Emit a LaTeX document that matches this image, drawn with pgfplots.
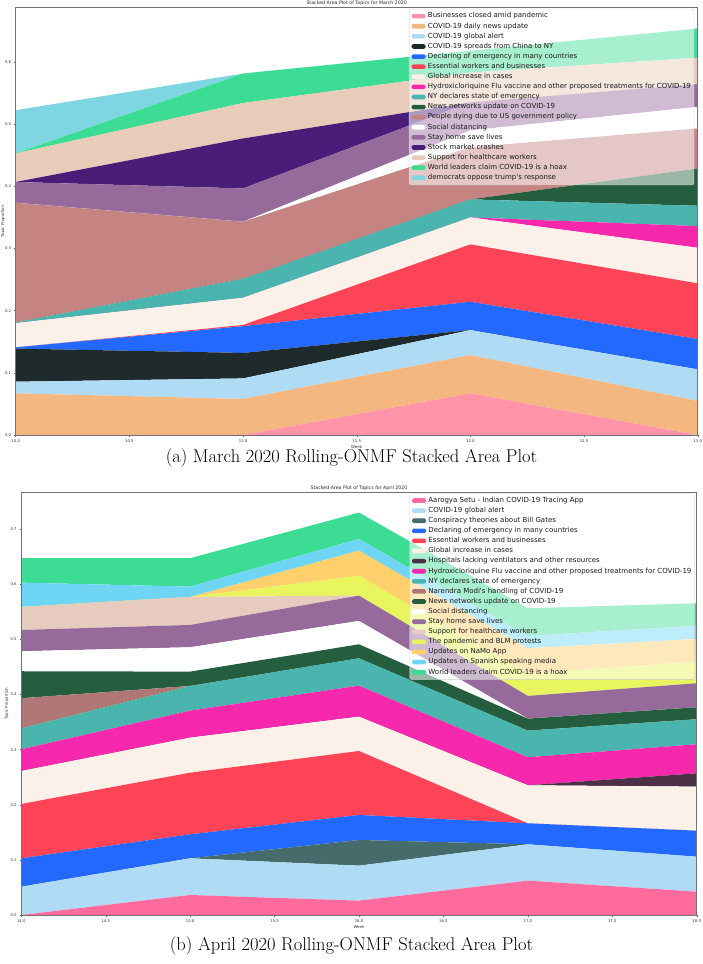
\documentclass[border=0pt]{standalone}
\usepackage{fontspec}
\usepackage{pgfplots}
\pgfplotsset{compat=1.18}
\newfontfamily\dejavu{DejaVu Sans}
% top chart colours
\definecolor{tA}{HTML}{FF94A8}
\definecolor{tB}{HTML}{F3B77F}
\definecolor{tC}{HTML}{B0DBF5}
\definecolor{tD}{HTML}{1F2A2C}
\definecolor{tE}{HTML}{2469FF}
\definecolor{tF}{HTML}{FF4458}
\definecolor{tG}{HTML}{FBF1E8}
\definecolor{tH}{HTML}{F628AC}
\definecolor{tI}{HTML}{4AB5AE}
\definecolor{tJ}{HTML}{255E3E}
\definecolor{tK}{HTML}{C58482}
\definecolor{tL}{HTML}{FFFFFF}
\definecolor{tM}{HTML}{976A9C}
\definecolor{tN}{HTML}{4A1E78}
\definecolor{tO}{HTML}{E8CBB8}
\definecolor{tP}{HTML}{3DDC94}
\definecolor{tQ}{HTML}{7ED6E2}
% bottom chart colours
\definecolor{bA}{HTML}{FF6B9D}
\definecolor{bB}{HTML}{B0DBF5}
\definecolor{bC}{HTML}{456B6B}
\definecolor{bD}{HTML}{2469FF}
\definecolor{bE}{HTML}{FF4458}
\definecolor{bF}{HTML}{FBF1E8}
\definecolor{bG}{HTML}{4B3046}
\definecolor{bH}{HTML}{F628AC}
\definecolor{bI}{HTML}{4AB5AE}
\definecolor{bJ}{HTML}{B07777}
\definecolor{bK}{HTML}{255E3E}
\definecolor{bL}{HTML}{FFFFFF}
\definecolor{bM}{HTML}{966A9A}
\definecolor{bN}{HTML}{E6CBBE}
\definecolor{bO}{HTML}{E8F55E}
\definecolor{bP}{HTML}{FFD06C}
\definecolor{bQ}{HTML}{6ED5F5}
\definecolor{bR}{HTML}{3DDC94}

\pgfplotsset{
  myaxis/.style={
    scale only axis,
    anchor=south west,
    stack plots=y,
    ymin=0,
    axis on top,
    axis line style={black!55, line width=0.5pt},
    tick align=outside,
    tick pos=left,
    major tick length=1.6pt,
    tick style={black!60, line width=0.4pt},
    scaled ticks=false,
    /pgf/number format/assume math mode=true,
    tick label style={font=\dejavu\fontsize{3.8}{4}\selectfont, text=black!80},
    xticklabel style={/pgf/number format/.cd, fixed, fixed zerofill, precision=1, /tikz/.cd, yshift=0.5pt},
    yticklabel style={/pgf/number format/.cd, fixed, fixed zerofill, precision=1, /tikz/.cd, xshift=0.5pt},
    every axis title shift=0pt,
    title style={font=\dejavu\fontsize{4.7}{5}\selectfont, text=black!85, at={(0.5,1)}, anchor=south, inner sep=0.8pt, yshift=1pt},
    xlabel={Week},
    ylabel={Topic Proportion},
    xlabel style={font=\dejavu\fontsize{4}{4.5}\selectfont, text=black!80, at={(axis description cs:0.5,0)}, anchor=center, yshift=-12pt},
    ylabel style={font=\dejavu\fontsize{4}{4.5}\selectfont, text=black!80, anchor=center},
    legend cell align=left,
    legend image code/.code={\fill[#1, fill opacity=1] (0pt,-2.3pt) rectangle (14pt,2.3pt);},
    legend style={font=\dejavu\fontsize{7}{7.5}\selectfont, text=black!90,
      fill=white, fill opacity=0.55, text opacity=1, draw=black!20, draw opacity=1,
      rounded corners=1.5pt, inner xsep=2.5pt, inner ysep=3.5pt,
      row sep=2.7pt, column sep=1.8pt,
      nodes={inner sep=0.6pt, text height=4.9pt, text depth=1.3pt},
      at={(1,1)}, anchor=north east},
  },
}

\begin{document}
\begin{tikzpicture}
\path[use as bounding box] (0pt,0pt) rectangle (703pt,964pt);

% ---------------- (a) March 2020 ----------------
\begin{axis}[myaxis,
  at={(15.7pt,529pt)}, width=682pt, height=427.7pt,
  xmin=10, xmax=13, ymax=0.688,
  xtick={10,10.5,11,11.5,12,12.5,13},
  ytick={0,0.1,0.2,0.3,0.4,0.5,0.6},
  title={Stacked Area Plot of Topics for March 2020},
  ylabel style={at={(axis description cs:-0.0186,0.5)}},
  legend style={xshift=-3.5pt, yshift=-1.5pt},
]
\addplot[fill=tA, draw=none] coordinates {(10,0) (11,0) (12,0.067) (13,0)} \closedcycle;
\addplot[fill=tB, draw=none] coordinates {(10,0.067) (11,0.058) (12,0.0616) (13,0.0547)} \closedcycle;
\addplot[fill=tC, draw=none] coordinates {(10,0.0187) (11,0.033) (12,0.0402) (13,0.0509)} \closedcycle;
\addplot[fill=tD, draw=none] coordinates {(10,0.0533) (11,0.041) (12,0) (13,0)} \closedcycle;
\addplot[fill=tE, draw=none] coordinates {(10,0.002) (11,0.043) (12,0.0455) (13,0.0487)} \closedcycle;
\addplot[fill=tF, draw=none] coordinates {(10,0) (11,0.002) (12,0.0923) (13,0.0896)} \closedcycle;
\addplot[fill=tG, draw=none] coordinates {(10,0.039) (11,0.0437) (12,0.0434) (13,0.0572)} \closedcycle;
\addplot[fill=tH, draw=none] coordinates {(10,0) (11,0) (12,0) (13,0.0349)} \closedcycle;
\addplot[fill=tI, draw=none] coordinates {(10,0.001) (11,0.0306) (12,0.029) (13,0.0327)} \closedcycle;
\addplot[fill=tJ, draw=none] coordinates {(10,0) (11,0) (12,0) (13,0.0601)} \closedcycle;
\addplot[fill=tK, draw=none] coordinates {(10,0.1925) (11,0.0917) (12,0.084) (13,0.0643)} \closedcycle;
\addplot[fill=tL, draw=none] coordinates {(10,0) (11,0) (12,0.027) (13,0.0347)} \closedcycle;
\addplot[fill=tM, draw=none] coordinates {(10,0.0335) (11,0.0536) (12,0.045) (13,0.0365)} \closedcycle;
\addplot[fill=tN, draw=none] coordinates {(10,0) (11,0.0804) (12,0) (13,0)} \closedcycle;
\addplot[fill=tO, draw=none] coordinates {(10,0.046) (11,0.057) (12,0.048) (13,0.0427)} \closedcycle;
\addplot[fill=tP, draw=none] coordinates {(10,0) (11,0.0475) (12,0.035) (13,0.0468)} \closedcycle;
\addplot[fill=tQ, draw=none] coordinates {(10,0.0695) (11,0) (12,0) (13,0)} \closedcycle;
\legend{Businesses closed amid pandemic,
COVID-19 daily news update,
COVID-19 global alert,
COVID-19 spreads from China to NY,
Declaring of emergency in many countries,
Essential workers and businesses,
Global increase in cases,
Hydroxicloriquine Flu vaccine and other proposed treatments for COVID-19,
NY declares state of emergency,
News networks update on COVID-19,
People dying due to US government policy,
Social distancing,
Stay home save lives,
Stock market crashes,
Support for healthcare workers,
World leaders claim COVID-19 is a hoax,
democrats oppose trump's response}
\end{axis}

% ---------------- (b) April 2020 ----------------
\begin{axis}[myaxis,
  at={(21.3pt,49pt)}, width=675.4pt, height=422.7pt,
  xmin=14, xmax=18, ymax=0.767,
  xtick={14,14.5,15,15.5,16,16.5,17,17.5,18},
  ytick={0,0.1,0.2,0.3,0.4,0.5,0.6,0.7},
  title={Stacked Area Plot of Topics for April 2020},
  ylabel style={at={(axis description cs:-0.0216,0.5)}},
  legend style={xshift=-2pt, yshift=-0.8pt},
]
\addplot[fill=bA, draw=none] coordinates {(14,0) (15,0.0363) (16,0.026) (17,0.0623) (18,0.0423)} \closedcycle;
\addplot[fill=bB, draw=none] coordinates {(14,0.0514) (15,0.0666) (16,0.0635) (17,0.066) (18,0.0635)} \closedcycle;
\addplot[fill=bC, draw=none] coordinates {(14,0) (15,0) (16,0.0466) (17,0) (18,0)} \closedcycle;
\addplot[fill=bD, draw=none] coordinates {(14,0.0515) (15,0.0435) (16,0.0454) (17,0.0381) (18,0.0472)} \closedcycle;
\addplot[fill=bE, draw=none] coordinates {(14,0.0986) (15,0.1119) (16,0.1161) (17,0) (18,0)} \closedcycle;
\addplot[fill=bF, draw=none] coordinates {(14,0.0598) (15,0.0635) (16,0.0623) (17,0.069) (18,0.0799)} \closedcycle;
\addplot[fill=bG, draw=none] coordinates {(14,0) (15,0) (16,0) (17,0) (18,0.0242)} \closedcycle;
\addplot[fill=bH, draw=none] coordinates {(14,0.0394) (15,0.049) (16,0.0563) (17,0.0508) (18,0.0527)} \closedcycle;
\addplot[fill=bI, draw=none] coordinates {(14,0.0381) (15,0.0448) (16,0.0496) (17,0.0483) (18,0.0454)} \closedcycle;
\addplot[fill=bJ, draw=none] coordinates {(14,0.0545) (15,0) (16,0) (17,0) (18,0)} \closedcycle;
\addplot[fill=bK, draw=none] coordinates {(14,0.049) (15,0.026) (16,0.0254) (17,0.0218) (18,0.0218)} \closedcycle;
\addplot[fill=bL, draw=none] coordinates {(14,0.0363) (15,0.0442) (16,0.0424) (17,0) (18,0)} \closedcycle;
\addplot[fill=bM, draw=none] coordinates {(14,0.0386) (15,0.0405) (16,0.046) (17,0.0412) (18,0.0435)} \closedcycle;
\addplot[fill=bN, draw=none] coordinates {(14,0.0418) (15,0.0508) (16,0) (17,0) (18,0)} \closedcycle;
\addplot[fill=bO, draw=none] coordinates {(14,0) (15,0) (16,0.0362) (17,0.04) (18,0.0393)} \closedcycle;
\addplot[fill=bP, draw=none] coordinates {(14,0) (15,0) (16,0.0454) (17,0.0465) (18,0.0411)} \closedcycle;
\addplot[fill=bQ, draw=none] coordinates {(14,0.0441) (15,0.0187) (16,0.0212) (17,0.0223) (18,0.0241)} \closedcycle;
\addplot[fill=bR, draw=none] coordinates {(14,0.0443) (15,0.0516) (16,0.0478) (17,0.0503) (18,0.0407)} \closedcycle;
\legend{Aarogya Setu - Indian COVID-19 Tracing App,
COVID-19 global alert,
Conspiracy theories about Bill Gates,
Declaring of emergency in many countries,
Essential workers and businesses,
Global increase in cases,
Hospitals lacking ventilators and other resources,
Hydroxicloriquine Flu vaccine and other proposed treatments for COVID-19,
NY declares state of emergency,
Narendra Modi's handling of COVID-19,
News networks update on COVID-19,
Social distancing,
Stay home save lives,
Support for healthcare workers,
The pandemic and BLM protests,
Updates on NaMo App,
Updates on Spanish speaking media,
World leaders claim COVID-19 is a hoax}
\end{axis}

\node[font=\fontsize{18.5}{21}\selectfont] at (351.5pt,506pt) {(a) March 2020 Rolling-ONMF Stacked Area Plot};
\node[font=\fontsize{18.5}{21}\selectfont] at (351.5pt,18pt) {(b) April 2020 Rolling-ONMF Stacked Area Plot};
\end{tikzpicture}
\end{document}
